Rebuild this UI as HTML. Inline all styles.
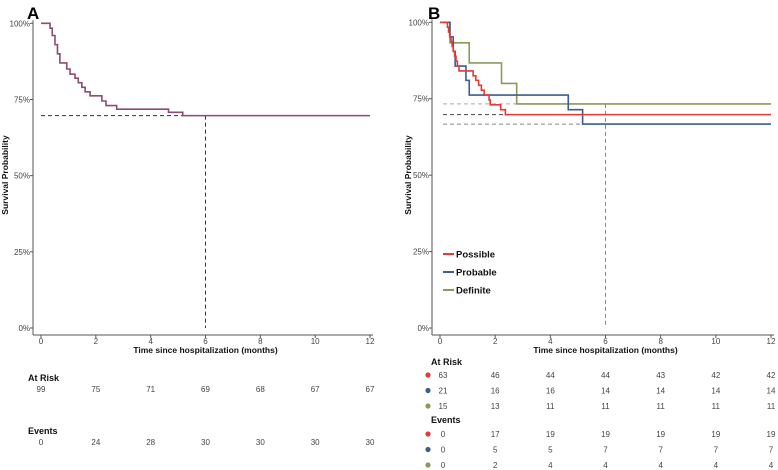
<!DOCTYPE html>
<html><head><meta charset="utf-8"><style>
html,body{margin:0;padding:0;background:#fff}
svg{display:block;font-family:"Liberation Sans",Arial,sans-serif}
</style></head><body>
<svg id="chart" width="778" height="470" viewBox="0 0 778 470"></svg>
<script>
// Panel A data
const timeTicks = [0,2,4,6,8,10,12];
const survTicks = [0,25,50,75,100];
const aTimes = [0,0.33,0.41,0.51,0.6,0.69,0.94,1.06,1.24,1.36,1.49,1.61,1.79,2.22,2.37,2.76,4.65,5.17];
const aSurv  = [100,98.4,96,93,90,87,85,83.3,82,80.5,79,77.5,76.2,74.5,73,71.8,70.8,69.7];
const aAtRisk = [99,75,71,69,68,67,67];
const aEvents = [0,24,28,30,30,30,30];
// Panel B data
const possibleTimes = [0,0.27,0.31,0.35,0.4,0.44,0.48,0.53,0.58,0.63,0.69,1.2,1.3,1.4,1.5,1.6,1.78,1.82,2.2,2.37];
const possibleSurv  = [100,98.4,96.8,95.2,93.7,92.1,90.5,88.9,87.3,85.7,84.1,82.5,81,79.4,77.8,76.2,74.6,73,71.4,69.8];
const probableTimes = [0,0.36,0.48,0.55,0.94,1.06,4.65,5.17];
const probableSurv  = [100,95.2,90.5,85.7,81,76.2,71.4,66.7];
const definiteTimes = [0,0.36,1.06,2.23,2.78];
const definiteSurv  = [100,93.3,86.7,80,73.3];
const groupNames = ["Possible","Probable","Definite"];
const bAtRisk = [[63,46,44,44,43,42,42],[21,16,16,14,14,14,14],[15,13,11,11,11,11,11]];
const bEvents = [[0,17,19,19,19,19,19],[0,5,5,7,7,7,7],[0,2,4,4,4,4,4]];
const medianLevelsB = [73.3,69.8,66.7];

const svg = document.getElementById('chart');
const NS = 'http://www.w3.org/2000/svg';
function mk(tag, attrs, parent){ const e=document.createElementNS(NS,tag); for(const k in attrs) e.setAttribute(k,attrs[k]); (parent||svg).appendChild(e); return e; }
function txt(x,y,s,attrs,parent){ const e=mk('text',Object.assign({x:x,y:y},attrs),parent); e.textContent=s; return e; }
const colors = ["#e53935","#3a5f8f","#8a9a5b"];

function panel(opts){
  const g = mk('g',{});
  
  
  const X = t => opts.x0 + (opts.x12-opts.x0)*t/12;
  const Y = s => opts.y0 - (opts.y0-opts.y100)*s/100;
  const lab = txt(opts.labX,19,opts.label,{'font-size':17,'font-weight':'bold',fill:'#000'},g);
  
  
  // axes
  const ya = mk('line',{x1:opts.ax,y1:opts.y100-3,x2:opts.ax,y2:335,stroke:'#555','stroke-width':1},g);
   
  const xa = mk('line',{x1:opts.ax,y1:335,x2:X(12)+3,y2:335,stroke:'#555','stroke-width':1},g);
   
  survTicks.forEach(s=>{
    mk('line',{x1:opts.ax-3,y1:Y(s),x2:opts.ax,y2:Y(s),stroke:'#555'},g);
    const t = txt(opts.ax-3,Y(s)+3,s+'%',{'font-size':8,'text-anchor':'end',fill:'#444'},g);
     
  });
  timeTicks.forEach(tk=>{
    mk('line',{x1:X(tk),y1:335,x2:X(tk),y2:338,stroke:'#555'},g);
    const t = txt(X(tk),344,String(tk),{'font-size':8,'text-anchor':'middle',fill:'#444'},g);
     
  });
  const xt = txt((X(0)+X(12))/2,353,'Time since hospitalization (months)',{'font-size':8.5,'font-weight':'bold','text-anchor':'middle',fill:'#111'},g);
   
  const yt = txt(0,0,'Survival Probability',{'font-size':8.5,'font-weight':'bold','text-anchor':'middle',fill:'#111',transform:'translate('+opts.ytX+',175) rotate(-90)'},g);
   
  return {g,X,Y};
}
function stepPath(times,surv,X,Y){
  let d='M'+X(times[0])+','+Y(surv[0]);
  for(let i=1;i<times.length;i++){ d+=' H'+X(times[i])+' V'+Y(surv[i]); }
  d+=' H'+X(12);
  return d;
}

// Panel A
const A = panel({name:'panel-a',label:'A',labX:27,ax:33,x0:41,x12:370,y0:328,y100:23.3,ytX:8});
let e;
e = mk('line',{x1:A.X(0),y1:A.Y(69.7),x2:A.X(6),y2:A.Y(69.7),stroke:'#333','stroke-dasharray':'4,3'},A.g);
 
e = mk('line',{x1:A.X(6),y1:A.Y(69.7),x2:A.X(6),y2:A.Y(0),stroke:'#333','stroke-dasharray':'4,3'},A.g);
 
e = mk('path',{d:stepPath(aTimes,aSurv,A.X,A.Y),fill:'none',stroke:'#8b4d73','stroke-width':1.6},A.g);
 
e = txt(28,381,'At Risk',{'font-size':9,'font-weight':'bold',fill:'#111'},A.g);
 
aAtRisk.forEach((v,i)=>{ const t=txt(A.X(timeTicks[i]),392,String(v),{'font-size':8,'text-anchor':'middle',fill:'#444'},A.g);
    });
e = txt(28,434,'Events',{'font-size':9,'font-weight':'bold',fill:'#111'},A.g);
 
aEvents.forEach((v,i)=>{ const t=txt(A.X(timeTicks[i]),445,String(v),{'font-size':8,'text-anchor':'middle',fill:'#444'},A.g);
    });

// Panel B
const B = panel({name:'panel-b',label:'B',labX:428,ax:432,x0:440,x12:771,y0:328,y100:22.3,ytX:411});
const medCols = ['#aaa','#444','#888'];
medianLevelsB.forEach((m,i)=>{
  const l=mk('line',{x1:B.X(0)+3,y1:B.Y(m),x2:B.X(6),y2:B.Y(m),stroke:medCols[i],'stroke-dasharray':'4,3'},B.g);
   
});
e = mk('line',{x1:B.X(6),y1:B.Y(73.3),x2:B.X(6),y2:B.Y(0),stroke:'#888','stroke-dasharray':'4,3'},B.g);
 
const series = [[possibleTimes,possibleSurv],[probableTimes,probableSurv],[definiteTimes,definiteSurv]];
[2,1,0].forEach(i=>{
  const p=mk('path',{d:stepPath(series[i][0],series[i][1],B.X,B.Y),fill:'none',stroke:colors[i],'stroke-width':1.6},B.g);
   
});
groupNames.forEach((n,i)=>{
  const y=254+i*18;
  const lg=mk('g',{},B.g);
   
  mk('line',{x1:443,y1:y,x2:454,y2:y,stroke:colors[i],'stroke-width':2},lg);
  txt(456,y+3.5,n,{'font-size':9.5,'font-weight':'bold',fill:'#111'},lg);
});
e = txt(431,365,'At Risk',{'font-size':9,'font-weight':'bold',fill:'#111'},B.g);
 
e = txt(431,423,'Events',{'font-size':9,'font-weight':'bold',fill:'#111'},B.g);
 
function tableRows(rows,y0,kind){
  rows.forEach((row,r)=>{
    const y=y0+r*15.5;
    const d=mk('circle',{cx:428,cy:y-3,r:2.6,fill:colors[r]},B.g);
     
    row.forEach((v,i)=>{
      const x = i===0 ? B.X(0)+3 : B.X(timeTicks[i]);
      const t=txt(x,y,String(v),{'font-size':8,'text-anchor':'middle',fill:'#444'},B.g);
       
    });
  });
}
tableRows(bAtRisk,378,'at-risk');
tableRows(bEvents,437,'events');
</script>
</body></html>
